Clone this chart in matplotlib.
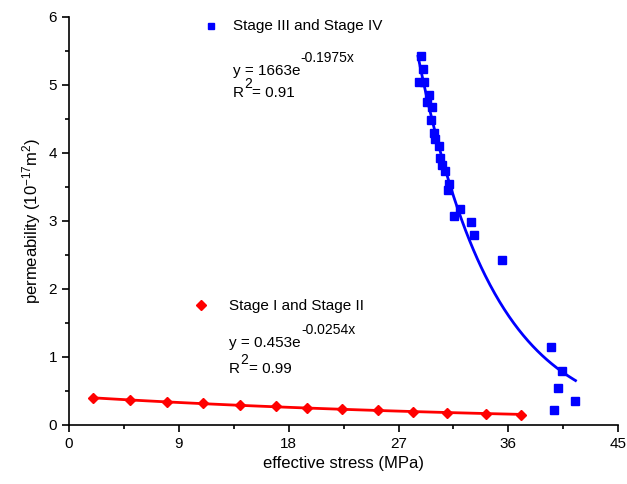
import numpy as np
import matplotlib.pyplot as plt
from matplotlib.transforms import IdentityTransform

plt.rcParams['font.family'] = ['Liberation Sans', 'DejaVu Sans']
plt.rcParams['mathtext.default'] = 'regular'

# Stage I and Stage II
x12 = [2.0, 5.0, 8.0, 11.0, 14.0, 17.0, 19.5, 22.4, 25.3, 28.2, 31.0, 34.2, 37.0]
k12 = [0.392, 0.368, 0.333, 0.319, 0.294, 0.275, 0.254, 0.235, 0.216, 0.187, 0.181, 0.166, 0.147]

# Stage III and Stage IV
x34 = [28.86, 29.03, 28.68, 29.08, 29.49, 29.31, 29.71, 29.66, 29.93, 29.98, 30.33, 30.42,
       30.58, 30.78, 31.15, 31.02, 32.0, 31.56, 32.92, 33.15, 35.48, 39.52, 40.42, 40.09,
       41.42, 39.71]
k34 = [5.42, 5.23, 5.04, 5.04, 4.85, 4.75, 4.67, 4.48, 4.29, 4.20, 4.10, 3.92,
       3.82, 3.74, 3.54, 3.45, 3.17, 3.08, 2.99, 2.80, 2.42, 1.14, 0.79, 0.54,
       0.35, 0.22]


def expfit(x, y):
    # y = a*exp(b*x), least squares in linear space (Gauss-Newton)
    x = np.asarray(x)
    y = np.asarray(y)
    b, la = np.polyfit(x, np.log(y), 1)
    a = np.exp(la)
    for _ in range(100):
        e = np.exp(b * x)
        J = np.column_stack([e, a * x * e])
        d = np.linalg.lstsq(J, y - a * e, rcond=None)[0]
        a += 0.5 * d[0]
        b += 0.5 * d[1]
    return a, b


fig = plt.figure(figsize=(6.27, 4.84), dpi=100)
ax = fig.add_axes([0.110, 0.122, 0.876, 0.843])

a12, b12 = expfit(x12, k12)
xf12 = np.linspace(min(x12), max(x12), 100)
ax.plot(xf12, a12 * np.exp(b12 * xf12), color='red', lw=2)

a34, b34 = expfit(x34, k34)
xf34 = np.linspace(28.6, 41.5, 200)
ax.plot(xf34, a34 * np.exp(b34 * xf34), color='blue', lw=2)

ax.plot(x12, k12, 'D', color='red', ms=5, ls='none')
ax.plot(x34, k34, 's', color='blue', ms=5.5, ls='none')

ax.set_xlim(0, 45)
ax.set_ylim(0, 6)

renderer = fig.canvas.get_renderer()


def sup_label(x, y, parts, raise_px=13):
    # parts: list of (text, is_superscript); drawn in pixel coords, baseline-aligned
    px, py = ax.transData.transform((x, y))
    for txt, sup in parts:
        if sup:
            t = ax.text(px + 0.5, py + raise_px, txt, fontsize=10, va='baseline',
                        transform=IdentityTransform())
        else:
            t = ax.text(px, py, txt, fontsize=11, va='baseline',
                        transform=IdentityTransform())
        px = t.get_window_extent(renderer).x1 + (0.5 if sup else 0)


# legend-like labels
ax.plot([11.6], [5.87], 's', color='blue', ms=5)
ax.text(13.4, 5.87, 'Stage III and Stage IV', fontsize=11, va='center')
sup_label(13.4, 5.147, [('y = 1663e', False), ('-0.1975x', True)])
sup_label(13.4, 4.83, [('R', False), ('2', True), ('= 0.91', False)], raise_px=9)

ax.plot([10.8], [1.765], 'D', color='red', ms=5)
ax.text(13.1, 1.75, 'Stage I and Stage II', fontsize=11, va='center')
sup_label(13.1, 1.15, [('y = 0.453e', False), ('-0.0254x', True)])
sup_label(13.1, 0.76, [('R', False), ('2', True), ('= 0.99', False)], raise_px=9)

ax.set_xticks(np.arange(0, 46, 9))
ax.set_xticks(np.arange(4.5, 45, 9), minor=True)
ax.set_yticks(np.arange(0, 7, 1))
ax.set_yticks(np.arange(0.5, 6, 1), minor=True)
ax.spines['top'].set_visible(False)
ax.spines['right'].set_visible(False)
for s in ['left', 'bottom']:
    ax.spines[s].set_linewidth(1.2)
ax.tick_params(which='major', length=5, width=1.2, labelsize=11)
ax.tick_params(which='minor', length=3, width=1.2)

ax.set_xlabel('effective stress (MPa)', fontsize=12)
ax.set_ylabel('permeability (10$^{-17}$m$^2$)', fontsize=12)

fig.savefig('out.png', dpi=100)
